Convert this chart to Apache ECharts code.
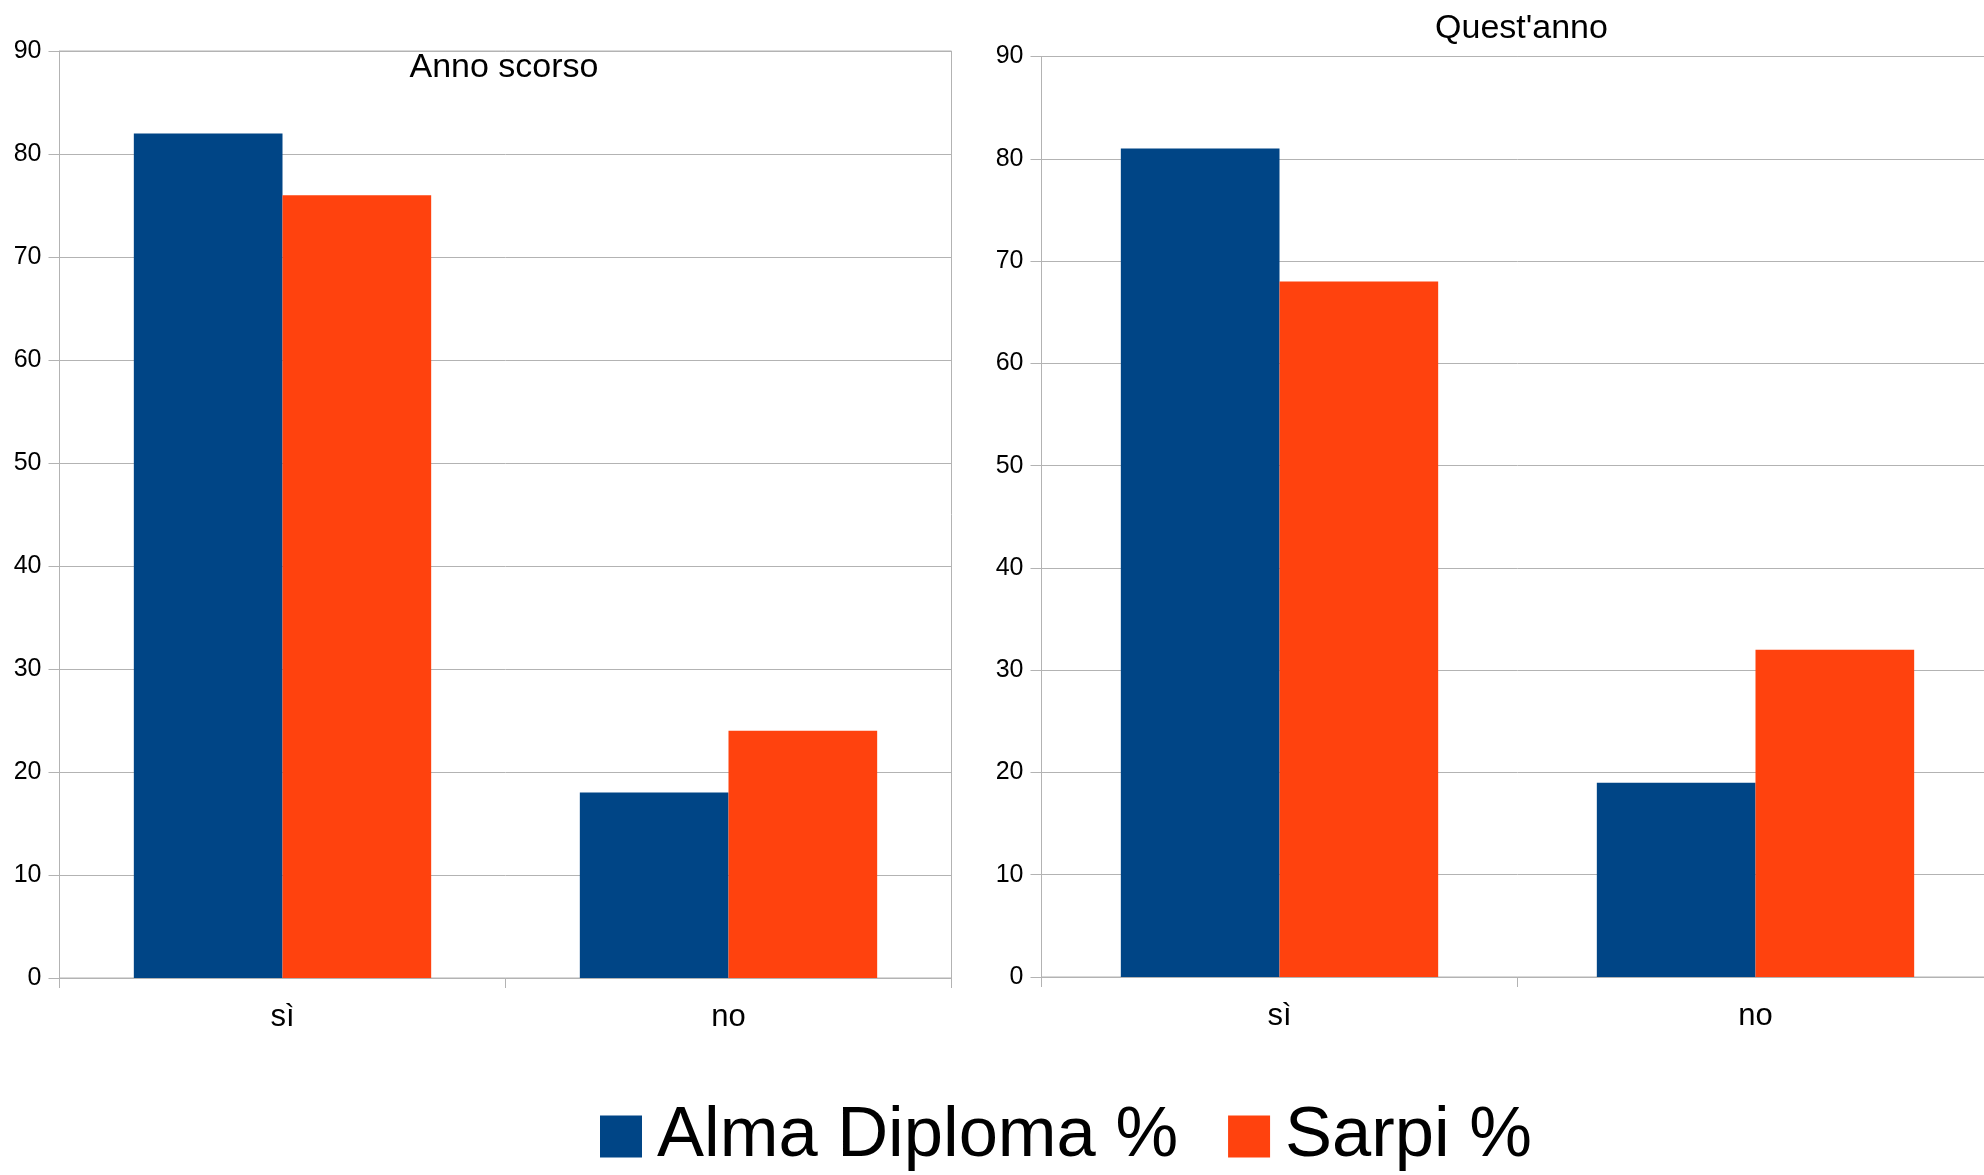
<!DOCTYPE html>
<html>
<head>
<meta charset="utf-8">
<script src="https://cdn.jsdelivr.net/npm/echarts@6/dist/echarts.min.js"></script>
<style>
html,body{margin:0;padding:0;background:#fff;overflow:hidden;}
#c{width:2000px;height:1175px;}
</style>
</head>
<body>
<div id="c"></div>
<script>
const categories = ['sì', 'no'];
const almaLastYear = [82, 18];
const sarpiLastYear = [76, 24];
const almaThisYear = [81, 19];
const sarpiThisYear = [68, 32];
const seriesNames = ['Alma Diploma %', 'Sarpi %'];
const titles = ['Anno scorso', "Quest'anno"];
const yMin = 0, yMax = 90, yStep = 10;

const FONT = 'Liberation Sans';
const GRAY = '#b3b3b3';
const BLUE = '#004586';
const ORANGE = '#ff420e';

const chart = echarts.init(document.getElementById('c'));

function yAxis(idx) {
  return {
    type: 'value', gridIndex: idx, min: yMin, max: yMax, interval: yStep,
    axisLine: {show: true, lineStyle: {color: GRAY, width: 1}},
    axisTick: {show: true, length: 11, lineStyle: {color: GRAY}},
    splitLine: {show: true, lineStyle: {color: GRAY, width: 1}},
    axisLabel: {fontFamily: FONT, fontSize: 25, color: '#000', margin: 18}
  };
}
function xAxis(idx) {
  return {
    type: 'category', gridIndex: idx, data: categories,
    axisLine: {show: true, lineStyle: {color: GRAY, width: 1}},
    axisTick: {show: true, length: 10, lineStyle: {color: GRAY}},
    axisLabel: {fontFamily: FONT, fontSize: 31, color: '#000', margin: 24}
  };
}
function bar(name, data, idx, color) {
  return {
    type: 'bar', name: name, data: data, xAxisIndex: idx, yAxisIndex: idx,
    barGap: '0%', barCategoryGap: '33.33%',
    itemStyle: {color: color}
  };
}

chart.setOption({
  animation: false,
  backgroundColor: '#fff',
  title: [
    {text: titles[0], left: 499, top: 46, textAlign: 'center',
     textStyle: {fontFamily: FONT, fontSize: 34, fontWeight: 'normal', color: '#000'}},
    {text: titles[1], left: 1516.5, top: 7, textAlign: 'center',
     textStyle: {fontFamily: FONT, fontSize: 34, fontWeight: 'normal', color: '#000'}}
  ],
  legend: {
    left: 600, top: 1101, padding: 0,
    itemWidth: 42, itemHeight: 42, itemGap: 50,
    icon: 'rect',
    data: seriesNames,
    textStyle: {fontFamily: FONT, fontSize: 70.5, color: '#000', padding: [0, 0, 0, 10]}
  },
  grid: [
    {left: 59.5, top: 51, width: 892, height: 927, show: true, borderColor: GRAY, borderWidth: 1},
    {left: 1041.5, top: 56.5, width: 952, height: 920.5, show: true, borderColor: GRAY, borderWidth: 1}
  ],
  xAxis: [xAxis(0), xAxis(1)],
  yAxis: [yAxis(0), yAxis(1)],
  series: [
    bar(seriesNames[0], almaLastYear, 0, BLUE),
    bar(seriesNames[1], sarpiLastYear, 0, ORANGE),
    bar(seriesNames[0], almaThisYear, 1, BLUE),
    bar(seriesNames[1], sarpiThisYear, 1, ORANGE)
  ]
});
</script>
</body>
</html>
